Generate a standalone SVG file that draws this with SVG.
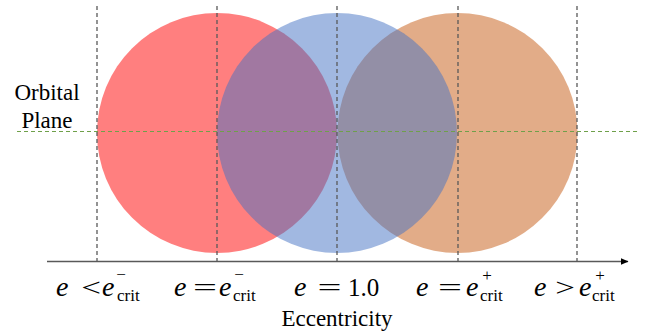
<svg xmlns="http://www.w3.org/2000/svg" width="646" height="335" viewBox="0 0 646 335">
<defs>
<style>
.vd{stroke:#595959;stroke-width:1.3;stroke-dasharray:4 3;fill:none}
.hd{stroke:#6FA04A;stroke-width:1;stroke-dasharray:4 3;fill:none}
</style>
<marker id="ah" markerWidth="8" markerHeight="7" refX="7.5" refY="3.5" orient="auto" markerUnits="userSpaceOnUse">
<path d="M0,0 L8,3.5 L0,7 z" fill="#000"/>
</marker>
</defs>
<rect width="646" height="335" fill="#fff"/>
<g id="circle-red"><circle cx="217" cy="133" r="120" fill="#FF0000" fill-opacity="0.5"/></g>
<g id="circle-orange"><circle cx="457.5" cy="133" r="120" fill="#C55A11" fill-opacity="0.5"/></g>
<g id="circle-blue"><circle cx="337" cy="133" r="120" fill="#4472C4" fill-opacity="0.5"/></g>
<g id="connectors">
<line class="hd" x1="17" y1="131.5" x2="640" y2="131.5"/>
<line class="vd" x1="97" y1="6" x2="97" y2="261"/>
<line class="vd" x1="217" y1="6" x2="217" y2="261"/>
<line class="vd" x1="337" y1="6" x2="337" y2="261"/>
<line class="vd" x1="458" y1="6" x2="458" y2="261"/>
<line class="vd" x1="577" y1="6" x2="577" y2="261"/>
<line x1="47" y1="261.5" x2="628" y2="261.5" stroke="#595959" stroke-width="1.3" marker-end="url(#ah)"/>
</g>
<g font-family="Liberation Serif, serif" fill="#000">
<g id="label-orbital-plane" font-size="23">
<text x="47" y="100" text-anchor="middle">Orbital</text>
<text x="47" y="128" text-anchor="middle">Plane</text>
</g>
<g id="label-eccentricity" font-size="23"><text x="337" y="326" text-anchor="middle">Eccentricity</text></g>
<g id="label-1">
<text font-size="28" font-style="italic" x="56" y="296">e</text>
<text font-size="25" text-anchor="middle" transform="translate(91,296) scale(1.4,1)">&lt;</text>
<text font-size="28" font-style="italic" x="102" y="296">e</text>
<text font-size="17" text-anchor="middle" x="121" y="280">−</text>
<text font-size="17" x="117" y="301">crit</text>
</g>
<g id="label-2">
<text font-size="28" font-style="italic" x="174" y="296">e</text>
<text font-size="25" text-anchor="middle" transform="translate(205,296) scale(1.7,1)">=</text>
<text font-size="28" font-style="italic" x="219" y="296">e</text>
<text font-size="17" text-anchor="middle" x="239" y="280">−</text>
<text font-size="17" x="233" y="301">crit</text>
</g>
<g id="label-3">
<text font-size="28" font-style="italic" x="294" y="296">e</text>
<text font-size="25" text-anchor="middle" transform="translate(329.5,296) scale(1.7,1)">=</text>
<text font-size="25" x="348" y="296">1.0</text>
</g>
<g id="label-4">
<text font-size="28" font-style="italic" x="416" y="296">e</text>
<text font-size="25" text-anchor="middle" transform="translate(450,296) scale(1.7,1)">=</text>
<text font-size="28" font-style="italic" x="466" y="296">e</text>
<text font-size="17" text-anchor="middle" x="487" y="281">+</text>
<text font-size="17" x="480" y="301">crit</text>
</g>
<g id="label-5">
<text font-size="28" font-style="italic" x="534" y="296">e</text>
<text font-size="25" text-anchor="middle" transform="translate(565,296) scale(1.4,1)">&gt;</text>
<text font-size="28" font-style="italic" x="579" y="296">e</text>
<text font-size="17" text-anchor="middle" x="600" y="281">+</text>
<text font-size="17" x="592" y="301">crit</text>
</g>
</g>
</svg>
